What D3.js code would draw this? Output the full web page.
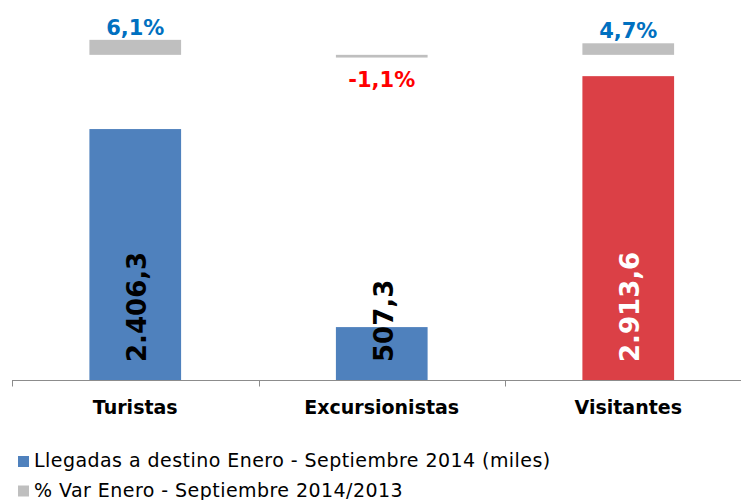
<!DOCTYPE html>
<html>
<head>
<meta charset="utf-8">
<script src="https://cdn.jsdelivr.net/npm/d3@7"></script>
<style>
  body { margin: 0; background: #fff; }
  text { font-family: "DejaVu Sans", Verdana, sans-serif; }
</style>
</head>
<body>
<div id="chart"></div>
<script>
// data
const categories = ["Turistas", "Excursionistas", "Visitantes"];
const llegadas = [2406.3, 507.3, 2913.6];     // miles
const variacion = [6.1, -1.1, 4.7];           // %
const llegadasLabels = ["2.406,3", "507,3", "2.913,6"];
const variacionLabels = ["6,1%", "-1,1%", "4,7%"];
const legendNames = ["Llegadas a destino Enero - Septiembre 2014 (miles)", "% Var Enero - Septiembre 2014/2013"];

const W = 741, H = 500;
const barColors = ["#4f81bd", "#4f81bd", "#db4046"];
const labelColors = ["#000", "#000", "#fff"];

const svg = d3.select("#chart").append("svg")
  .attr("width", W)
  .attr("height", H);

// band per category, axis runs off the right edge
const x = d3.scaleBand()
  .domain(categories)
  .range([12, 751.5])
  .padding(0);

// primary axis (miles) and secondary axis (%)
const y = d3.scaleLinear().domain([0, 3500]).range([380, 15]);
const y2 = d3.scaleLinear().domain([-132.2, 16.2]).range([380, 15]);

const barW = x.bandwidth() * 0.372;
const cx = d => x(d) + x.bandwidth() / 2;

// main bars
svg.selectAll("rect.bar")
  .data(categories)
  .join("rect")
  .attr("class", "bar")
  .attr("x", d => cx(d) - barW / 2)
  .attr("width", barW)
  .attr("y", (d, i) => y(llegadas[i]))
  .attr("height", (d, i) => y(0) - y(llegadas[i]))
  .attr("fill", (d, i) => barColors[i]);

// % var bars (secondary axis)
svg.selectAll("rect.var")
  .data(categories)
  .join("rect")
  .attr("class", "var")
  .attr("x", d => cx(d) - barW / 2)
  .attr("width", barW)
  .attr("y", (d, i) => Math.min(y2(variacion[i]), y2(0)))
  .attr("height", (d, i) => Math.abs(y2(variacion[i]) - y2(0)))
  .attr("fill", "#bfbfbf");

// % labels
svg.selectAll("text.varlab")
  .data(categories)
  .join("text")
  .attr("class", "varlab")
  .attr("x", d => cx(d))
  .attr("y", (d, i) => variacion[i] >= 0 ? y2(variacion[i]) - 5 : y2(variacion[i]) + 29)
  .attr("text-anchor", "middle")
  .attr("font-size", "21px")
  .attr("font-weight", "bold")
  .attr("fill", (d, i) => variacion[i] >= 0 ? "#0070c0" : "#ff0000")
  .text((d, i) => variacionLabels[i]);

// value labels, rotated inside the base of each bar
svg.selectAll("text.vallab")
  .data(categories)
  .join("text")
  .attr("class", "vallab")
  .attr("transform", d => `translate(${cx(d) + 11},${y(0) - 18}) rotate(-90)`)
  .attr("font-size", "26px")
  .attr("font-weight", "bold")
  .attr("fill", (d, i) => labelColors[i])
  .text((d, i) => llegadasLabels[i]);

// category axis
const axisY = 380.5;
svg.append("line")
  .attr("x1", 12).attr("x2", W)
  .attr("y1", axisY).attr("y2", axisY)
  .attr("stroke", "#8c8c8c").attr("stroke-width", 1.2);

svg.selectAll("line.tick")
  .data(categories)
  .join("line")
  .attr("class", "tick")
  .attr("x1", d => Math.round(x(d)) + 0.5)
  .attr("x2", d => Math.round(x(d)) + 0.5)
  .attr("y1", axisY).attr("y2", axisY + 6)
  .attr("stroke", "#8c8c8c");

svg.selectAll("text.cat")
  .data(categories)
  .join("text")
  .attr("class", "cat")
  .attr("x", d => cx(d))
  .attr("y", 413.5)
  .attr("text-anchor", "middle")
  .attr("font-size", "19px")
  .attr("font-weight", "bold")
  .attr("fill", "#000")
  .text(d => d);

// legend
const legendColors = ["#4f81bd", "#bfbfbf"];
const lg = svg.selectAll("g.legend")
  .data(legendNames)
  .join("g")
  .attr("class", "legend")
  .attr("transform", (d, i) => `translate(18,${456 + i * 29.5})`);

lg.append("rect")
  .attr("width", 11).attr("height", 11)
  .attr("fill", (d, i) => legendColors[i]);

lg.append("text")
  .attr("x", 16)
  .attr("y", 11)
  .attr("font-size", "19px")
  .attr("letter-spacing", "0.45px")
  .attr("fill", "#000")
  .text(d => d);
</script>
</body>
</html>
